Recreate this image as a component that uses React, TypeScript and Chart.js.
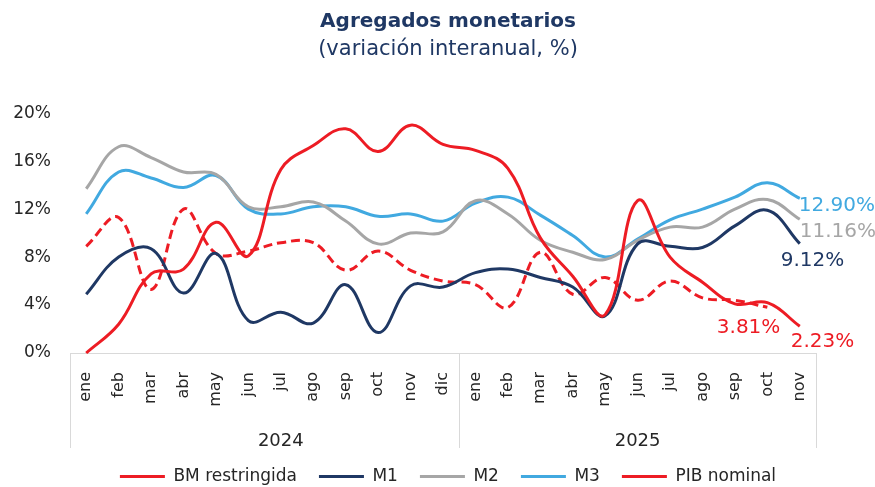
import React, { useEffect, useRef } from 'react';
import { Chart, registerables } from 'chart.js';

Chart.register(...registerables);

const MONTHS = ['ene', 'feb', 'mar', 'abr', 'may', 'jun', 'jul', 'ago', 'sep', 'oct', 'nov', 'dic',
  'ene', 'feb', 'mar', 'abr', 'may', 'jun', 'jul', 'ago', 'sep', 'oct', 'nov'];
const YEARS = ['2024', '2025'];
const YEAR_COUNTS = [12, 11];

const BM_RESTRINGIDA = [0.0, 2.4, 6.6, 7.0, 10.9, 8.1, 15.3, 17.3, 18.7, 16.8, 19.0, 17.4,
  16.9, 15.4, 9.6, 6.4, 3.2, 12.7, 8.0, 5.9, 4.1, 4.2, 2.23];
const M1 = [4.9, 8.0, 8.7, 5.0, 8.3, 2.7, 3.4, 2.5, 5.7, 1.7, 5.6, 5.5,
  6.7, 7.0, 6.3, 5.5, 3.1, 9.1, 8.9, 8.8, 10.6, 11.9, 9.12];
const M2 = [13.7, 17.2, 16.3, 15.1, 14.9, 12.2, 12.2, 12.6, 11.0, 9.1, 10.0, 10.1,
  12.7, 11.6, 9.4, 8.4, 7.8, 9.4, 10.5, 10.5, 12.0, 12.8, 11.16];
const M3 = [11.6, 15.1, 14.6, 13.8, 14.8, 12.0, 11.6, 12.2, 12.2, 11.4, 11.6, 11.0,
  12.5, 13.0, 11.5, 9.8, 8.0, 9.5, 11.1, 12.0, 13.0, 14.2, 12.9];
const PIB_NOMINAL = [8.9, 11.3, 5.3, 12.0, 8.3, 8.5, 9.2, 9.2, 6.9, 8.5, 6.9, 6.0,
  5.7, 3.8, 8.4, 4.9, 6.3, 4.4, 6.0, 4.6, 4.4, 3.81, null];

const Y_MIN = 0;
const Y_MAX = 20;
const Y_STEP = 4;

const RED = '#ED1C24';
const NAVY = '#1F3864';
const GRAY = '#A6A6A6';
const BLUE = '#41A9E0';
const TEXT = '#262626';
const AXIS = '#D9D9D9';
const FONT = "'DejaVu Sans', sans-serif";

const W = 875;
const H = 487;
const PAD_RIGHT = -21;
const PAD_BOTTOM = -8;
const PLOT_LEFT = 70;
const PLOT_RIGHT = 816;
const PLOT_BOTTOM = 353;

// end-label placement relative to last point
const END_LABELS: Record<string, { dx: number; dy: number; align: CanvasTextAlign }> = {
  'BM restringida': { dx: -9, dy: 16, align: 'left' },
  'M1': { dx: -19, dy: 17, align: 'left' },
  'M2': { dx: 0, dy: 13, align: 'left' },
  'M3': { dx: -1, dy: 7, align: 'left' },
  'PIB nominal': { dx: 13, dy: 20, align: 'right' },
};

const endLabelPlugin = {
  id: 'endLabels',
  afterDatasetsDraw(chart: any) {
    const ctx = chart.ctx;
    ctx.save();
    ctx.font = `20px ${FONT}`;
    ctx.textBaseline = 'middle';
    chart.data.datasets.forEach((ds: any, i: number) => {
      const cfg = END_LABELS[ds.label];
      if (!cfg) return;
      const meta = chart.getDatasetMeta(i);
      let last = -1;
      ds.data.forEach((v: any, j: number) => { if (v !== null && v !== undefined) last = j; });
      if (last < 0) return;
      const pt = meta.data[last];
      ctx.fillStyle = ds.borderColor;
      ctx.textAlign = cfg.align;
      ctx.fillText(Number(ds.data[last]).toFixed(2) + '%', pt.x + cfg.dx, pt.y + cfg.dy);
    });
    ctx.restore();
  },
};

const axisBoxPlugin = {
  id: 'axisBox',
  beforeDatasetsDraw(chart: any) {
    const ctx = chart.ctx;
    const xs = chart.scales.x;
    const bottom = chart.chartArea.bottom;
    const depth = 95;
    ctx.save();
    ctx.strokeStyle = AXIS;
    ctx.lineWidth = 1;
    ctx.beginPath();
    ctx.moveTo(xs.left, Math.round(bottom) + 0.5);
    ctx.lineTo(xs.right, Math.round(bottom) + 0.5);
    const bounds: number[] = [xs.left];
    let start = 0;
    YEAR_COUNTS.forEach((n, k) => {
      const end = start + n;
      if (k < YEAR_COUNTS.length - 1) {
        bounds.push((xs.getPixelForValue(end - 1) + xs.getPixelForValue(end)) / 2);
      }
      start = end;
    });
    bounds.push(xs.right);
    bounds.forEach((bx) => {
      const px = Math.round(bx) + 0.5;
      ctx.moveTo(px, bottom);
      ctx.lineTo(px, bottom + depth);
    });
    ctx.stroke();

    ctx.fillStyle = TEXT;
    ctx.font = `18px ${FONT}`;
    ctx.textAlign = 'center';
    ctx.textBaseline = 'middle';
    start = 0;
    YEARS.forEach((yr, k) => {
      const n = YEAR_COUNTS[k];
      const px = xs.getPixelForValue(start + Math.floor(n / 2));
      ctx.fillText(yr, px, bottom + 88);
      start += n;
    });
    ctx.restore();
  },
};

export default function App() {
  const ref = useRef<HTMLCanvasElement | null>(null);

  useEffect(() => {
    if (!ref.current) return;
    Chart.defaults.font.family = FONT;
    const common = { pointRadius: 0, borderWidth: 3, tension: 0.4, fill: false, clip: false as any };
    const chart = new Chart(ref.current, {
      type: 'line',
      data: {
        labels: MONTHS,
        datasets: [
          { label: 'BM restringida', data: BM_RESTRINGIDA, borderColor: RED, backgroundColor: RED, ...common },
          { label: 'M1', data: M1, borderColor: NAVY, backgroundColor: NAVY, ...common },
          { label: 'M2', data: M2, borderColor: GRAY, backgroundColor: GRAY, ...common },
          { label: 'M3', data: M3, borderColor: BLUE, backgroundColor: BLUE, ...common },
          { label: 'PIB nominal', data: PIB_NOMINAL, borderColor: RED, backgroundColor: RED, borderDash: [9, 5], ...common },
        ],
      },
      options: {
        responsive: false,
        animation: false,
        layout: { padding: { left: 0, right: PAD_RIGHT, top: 0, bottom: PAD_BOTTOM } },
        plugins: {
          title: {
            display: true,
            text: 'Agregados monetarios',
            color: NAVY,
            font: { family: FONT, size: 20, weight: 'bold' },
            padding: { top: 10, bottom: 2 },
          },
          subtitle: {
            display: true,
            text: '(variación interanual, %)',
            color: NAVY,
            font: { family: FONT, size: 21 },
            padding: { top: 1, bottom: 51 },
          },
          legend: {
            position: 'bottom',
            labels: {
              usePointStyle: true,
              pointStyle: 'line',
              pointStyleWidth: 45,
              color: TEXT,
              font: { family: FONT, size: 17 },
              padding: 22,
            },
          },
          tooltip: { enabled: false },
        },
        scales: {
          x: {
            type: 'category',
            offset: true,
            grid: { display: false, drawTicks: false },
            border: { display: false },
            ticks: {
              color: TEXT,
              font: { family: FONT, size: 16 },
              padding: 19,
              minRotation: 90,
              maxRotation: 90,
              autoSkip: false,
            },
            afterFit: (s: any) => {
              s.height = H - PAD_BOTTOM - s.chart.legend.height - PLOT_BOTTOM;
            },
          },
          y: {
            min: Y_MIN,
            max: Y_MAX,
            grid: { display: false, drawTicks: false },
            border: { display: false },
            ticks: {
              stepSize: Y_STEP,
              color: TEXT,
              font: { family: FONT, size: 17 },
              padding: 19,
              callback: (v: any) => v + '%',
            },
            afterFit: (s: any) => { s.width = PLOT_LEFT; },
          },
          y2: {
            position: 'right',
            grid: { display: false, drawTicks: false },
            border: { display: false },
            ticks: { display: false },
            afterFit: (s: any) => { s.width = W - PAD_RIGHT - PLOT_RIGHT; },
          },
        },
      } as any,
      plugins: [axisBoxPlugin, endLabelPlugin],
    });
    return () => chart.destroy();
  }, []);

  return (
    <div style={{ position: 'absolute', left: 0, top: 0, width: W, height: H, background: '#fff' }}>
      <canvas ref={ref} width={W} height={H} style={{ display: 'block' }} />
    </div>
  );
}
